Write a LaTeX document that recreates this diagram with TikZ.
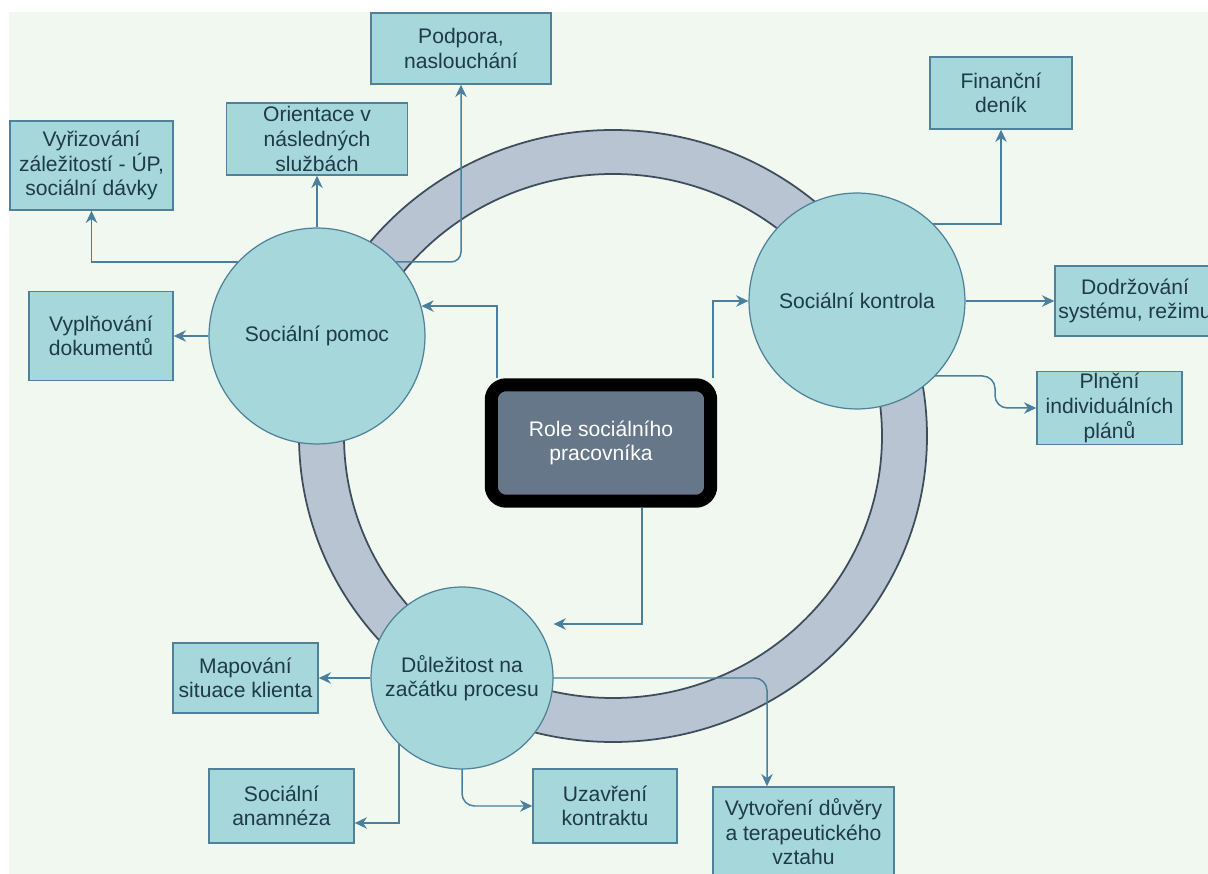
\documentclass[tikz,border=0pt]{standalone}
\usepackage{fontspec}
\setmainfont{Liberation Sans}
\usetikzlibrary{arrows.meta}
\pgfdeclarelayer{back}
\pgfdeclarelayer{mid}
\pgfsetlayers{back,mid,main}
\definecolor{paper}{HTML}{F1F8EF}
\definecolor{boxfill}{HTML}{A6D7DA}
\definecolor{boxline}{HTML}{4F819A}
\definecolor{ink}{HTML}{1E3A4C}
\definecolor{ringfill}{HTML}{B8C4D1}
\definecolor{ringline}{HTML}{3E4C5C}
\definecolor{linkcol}{HTML}{4A7F9E}
\definecolor{rolefill}{HTML}{667789}
\tikzset{
  item/.style={draw=boxline, fill=boxfill, text=ink, line width=0.8pt, align=center,
    font=\fontsize{12}{14}\selectfont, inner sep=1pt},
  hub/.style={item, circle, line width=0.7pt},
  link/.style={draw=linkcol, line width=0.85pt, -{Stealth[length=7pt,width=6.5pt]}},
}

\begin{document}
\begin{tikzpicture}[x=0.02cm, y=-0.02cm]
  \useasboundingbox (0,0) rectangle (1208,874);

  \begin{pgfonlayer}{back}
    \fill[paper] (9,12) rectangle (1208,874);
    \fill[ringfill, even odd rule] (613,436) ellipse[x radius=314, y radius=306]
      (613,436) ellipse[x radius=269, y radius=262];
    \draw[ringline, line width=1pt] (613,436) ellipse[x radius=314, y radius=306]
      (613,436) ellipse[x radius=269, y radius=262];
  \end{pgfonlayer}

  % centre
  \node[fill=rolefill, draw=black, line width=7.4pt, rounded corners=0.3cm,
    minimum width=4.39cm, minimum height=2.33cm, text=white, align=center,
    font=\fontsize{12}{14}\selectfont] (role) at (601,443) {Role sociálního\\pracovníka};

  % the three roles
  \node[hub, minimum size=4.32cm] (pomoc) at (317,336) {Sociální pomoc};
  \node[hub, minimum size=4.32cm] (kontrola) at (857,301) {Sociální kontrola};
  \node[hub, minimum size=3.64cm] (dulez) at (462,678) {Důležitost na\\začátku procesu};

  % boxes round Sociální pomoc
  \node[item, minimum width=3.6cm, minimum height=1.42cm] (podpora) at (461,48.5) {Podpora,\\naslouchání};
  \node[item, minimum width=3.62cm, minimum height=1.44cm] (orient) at (317,139) {Orientace v\\následných\\službách};
  \node[item, minimum width=3.26cm, minimum height=1.78cm] (vyriz) at (91.5,165.5) {Vyřizování\\záležitostí - ÚP,\\sociální dávky};
  \node[item, minimum width=2.88cm, minimum height=1.78cm] (vypln) at (101,336) {Vyplňování\\dokumentů};

  % boxes round Sociální kontrola
  \node[item, minimum width=2.84cm, minimum height=1.44cm] (financ) at (1001,93) {Finanční\\deník};
  \node[item, minimum width=3.2cm, minimum height=1.4cm] (dodrz) at (1135,301) {Dodržování\\systému, režimu};
  \node[item, minimum width=2.9cm, minimum height=1.44cm] (plneni) at (1109.5,408) {Plnění\\individuálních\\plánů};

  % boxes round Důležitost
  \node[item, minimum width=2.9cm, minimum height=1.4cm] (mapov) at (245.5,678) {Mapování\\situace klienta};
  \node[item, minimum width=2.9cm, minimum height=1.48cm] (anamn) at (281.5,806) {Sociální\\anamnéza};
  \node[item, minimum width=2.88cm, minimum height=1.48cm] (uzavr) at (605,806) {Uzavření\\kontraktu};
  \node[item, minimum width=3.62cm, minimum height=1.8cm] (vytvor) at (803.5,832) {Vytvoření důvěry\\a terapeutického\\vztahu};

  \begin{pgfonlayer}{mid}
    % from the centre
    \draw[link] ([xshift=0.24cm]role.north west) |- (pomoc.16);
    \draw[link] ([xshift=-0.08cm]role.north east) |- (kontrola.west);
    \draw[link] ([xshift=0.82cm]role.south) |- ([yshift=1.08cm]dulez.east);

    \foreach \a/\b in {pomoc/orient, pomoc/vypln, kontrola/dodrz, dulez/mapov}
      \draw[link] (\a) -- (\b);

    \draw[link] (pomoc.center) -- ++(0,-74) -| (vyriz.south);
    \draw[link, rounded corners=0.2cm] (pomoc.center) -- ++(0,-74) -| (podpora.south);
    \draw[link] (kontrola.center) -- ++(0,-77) -| (financ.south);
    \draw[link, rounded corners=0.25cm] (kontrola.center) -- ++(0,75) -- ++(138,0) |- (plneni.west);
    \draw[link] ([xshift=-1.26cm]dulez.center) |- ([yshift=-0.34cm]anamn.east);
    \draw[link, rounded corners=0.25cm] (dulez.center) |- (uzavr.west);
    \draw[link, rounded corners=0.25cm] (dulez.center) -| ([xshift=-0.73cm]vytvor.north);
  \end{pgfonlayer}
\end{tikzpicture}
\end{document}
